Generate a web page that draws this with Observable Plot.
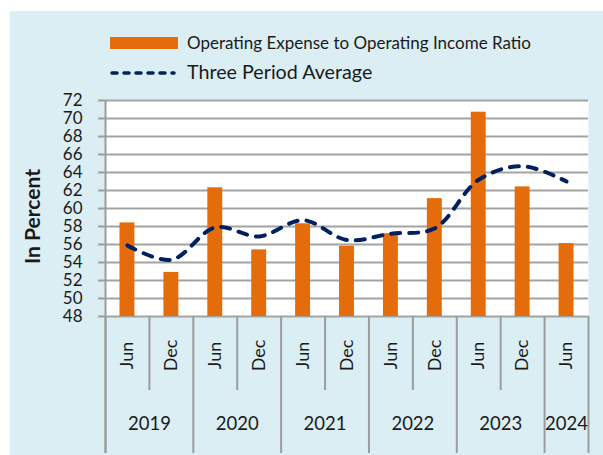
<!DOCTYPE html>
<html><head><meta charset="utf-8">
<script src="https://cdn.jsdelivr.net/npm/d3@7"></script>
<script src="https://cdn.jsdelivr.net/npm/@observablehq/plot@0.6"></script>
<style>
body{margin:0;background:#fff;font-family:Lato,sans-serif;}
#panel{position:absolute;left:10px;top:11px;width:593px;height:444px;background:#DBEEF4;overflow:hidden}
#legend{position:relative;height:70px}
.sw{position:absolute}
.lt{position:absolute;color:#1a1a1a;white-space:nowrap;font-family:Lato,sans-serif}
#chart svg{display:block;overflow:visible}
</style></head>
<body>
<div id="panel"><div id="legend"></div><div id="chart"></div></div>
<script>
const periods = ["Jun","Dec","Jun","Dec","Jun","Dec","Jun","Dec","Jun","Dec","Jun"];
const years = ["2019","2019","2020","2020","2021","2021","2022","2022","2023","2023","2024"];
const ratio = [58.4, 52.9, 62.3, 55.4, 58.3, 55.8, 57.2, 61.1, 70.7, 62.4, 56.1];
const average = [55.9, 54.3, 57.9, 56.9, 58.7, 56.5, 57.2, 57.8, 63.2, 64.7, 63.0];
const yTicks = [48, 50, 52, 54, 56, 58, 60, 62, 64, 66, 68, 70, 72];
const seriesNames = ["Operating Expense to Operating Income Ratio", "Three Period Average"];

const orange = "#E46C0A";
const navy = "#002060";
const gray = "#9c9c9c";

// Legend (HTML, above the SVG)
const legend = document.getElementById("legend");
legend.innerHTML = `
  <div class="sw" style="left:100px;top:26px;width:68px;height:12px;background:${orange}"></div>
  <div class="lt" style="left:177px;top:22px;font-size:17px;line-height:20px">${seriesNames[0]}</div>
  <svg class="sw" style="left:100px;top:55px" width="66" height="14">
    <line x1="2" x2="64" y1="7" y2="7" stroke="${navy}" stroke-width="3.5" stroke-dasharray="5,7" stroke-linecap="round"/>
  </svg>
  <div class="lt" style="left:177px;top:49px;font-size:19.7px;line-height:23px">${seriesNames[1]}</div>`;

const n = periods.length;
const rows = periods.map((p, i) => ({i, period: p, year: years[i], ratio: ratio[i], avg: average[i]}));
const yearGroups = d3.groups(rows, d => d.year).map(([year, rs]) => ({year, center: d3.mean(rs, r => r.i) + 0.5}));
const boundaries = d3.range(n + 1);
const yearBounds = boundaries.filter(b => b === 0 || b === n || years[b] !== years[b - 1]);
const monthBounds = boundaries.filter(b => !yearBounds.includes(b));
const barHalf = 0.17;

const chart = Plot.plot({
  width: 593, height: 374,
  marginTop: 19, marginBottom: 139, marginLeft: 95, marginRight: 15,
  x: {type: "linear", domain: [0, n], axis: null},
  y: {domain: [yTicks[0], yTicks[yTicks.length - 1]], axis: null},
  style: {background: "transparent", fontFamily: "Lato, sans-serif", color: "#1a1a1a", overflow: "visible"},
  marks: [
    Plot.frame({fill: "white", stroke: "none"}),
    Plot.ruleY(yTicks, {stroke: "#a3a3a3", strokeWidth: 2}),
    Plot.rectY(rows, {x1: d => d.i + 0.5 - barHalf, x2: d => d.i + 0.5 + barHalf, y1: () => yTicks[0], y2: "ratio", fill: orange}),
    Plot.line(rows, {x: d => d.i + 0.5, y: "avg", curve: "catmull-rom", stroke: navy, strokeWidth: 4, strokeDasharray: "9,9", strokeLinecap: "round"}),
    Plot.axisY({ticks: yTicks, tickSize: 7, tickPadding: 16, fontSize: 17, stroke: gray, strokeWidth: 2, fill: "#1a1a1a", label: null, tickFormat: d => String(d)}),
    Plot.ruleX([0], {x: d => d, stroke: gray, strokeWidth: 2, insetBottom: -137}),
    Plot.ruleX(yearBounds, {x: d => d, stroke: gray, strokeWidth: 2, insetTop: 216, insetBottom: -137}),
    Plot.ruleX(monthBounds, {x: d => d, stroke: gray, strokeWidth: 2, insetTop: 216, insetBottom: -74}),
    Plot.text(rows, {x: d => d.i + 0.5, text: "period", frameAnchor: "bottom", lineAnchor: "middle", textAnchor: "middle", dy: 39, rotate: -90, fontSize: 18, fill: "#1a1a1a"}),
    Plot.text(yearGroups, {x: "center", text: "year", frameAnchor: "bottom", lineAnchor: "middle", textAnchor: "middle", dy: 108, fontSize: 18.5, fill: "#1a1a1a"}),
    Plot.text(["In Percent"], {frameAnchor: "left", lineAnchor: "middle", textAnchor: "middle", dx: -72, dy: 8, rotate: -90, fontWeight: "bold", fontSize: 21, fill: "#1a1a1a"})
  ]
});
document.getElementById("chart").appendChild(chart);
</script>
</body></html>
